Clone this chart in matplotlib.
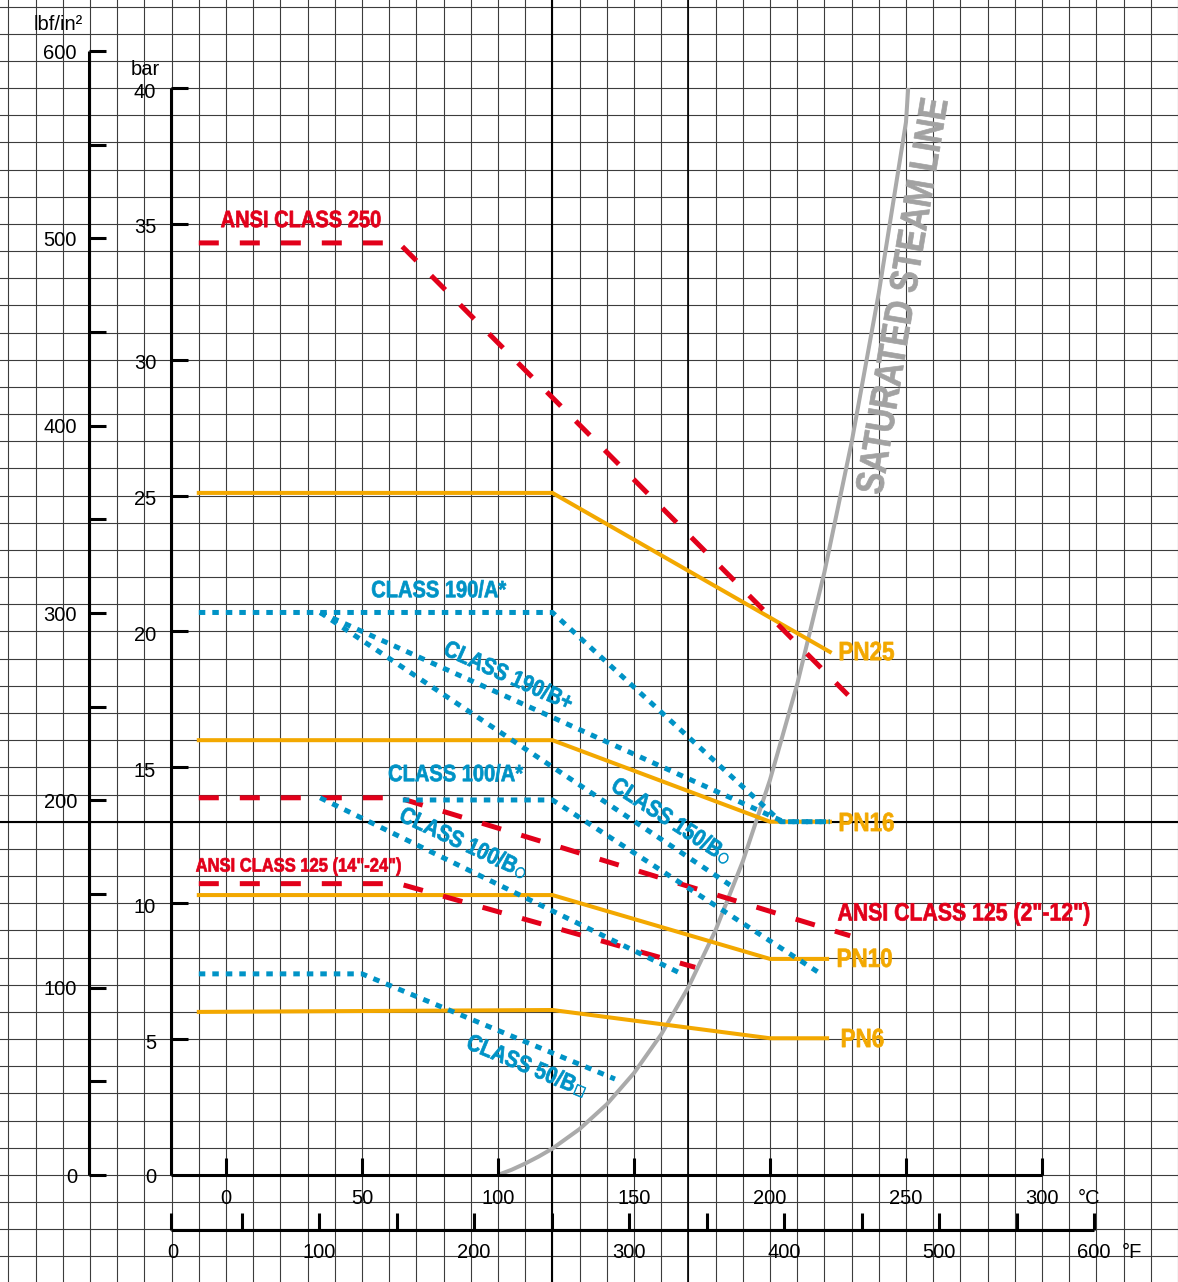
import matplotlib
matplotlib.use('Agg')
import numpy as np
from matplotlib.font_manager import FontProperties
from matplotlib.patches import PathPatch
from matplotlib.path import Path
from matplotlib.textpath import TextPath
from matplotlib.transforms import Affine2D
from matplotlib import pyplot as plt

plt.rcParams['font.family'] = ['Liberation Sans', 'DejaVu Sans']

RED = '#e2001a'
BLUE = '#0093c6'
ORANGE = '#f3a800'
GREY = '#aaaaaa'

# pressure ratings, temperature in degC, pressure in bar
pn25_t = [-10, 120, 222]
pn25_p = [25.1, 25.1, 19.25]
pn16_t = [-10, 120, 200, 222]
pn16_p = [16.0, 16.0, 13.0, 13.0]
pn10_t = [-10, 120, 200, 221]
pn10_p = [10.3, 10.3, 7.95, 7.95]
pn6_t = [-10, 120, 200, 221]
pn6_p = [6.0, 6.07, 5.03, 5.03]

ansi250_t = [-10, 63.5, 228.7]
ansi250_p = [34.3, 34.3, 17.66]
ansi125_large_t = [-10, 63.5, 172.5]
ansi125_large_p = [10.72, 10.72, 7.64]
ansi125_small_t = [-10, 63.5, 229.5]
ansi125_small_p = [13.88, 13.88, 8.8]

class190a_t = [-10, 120, 204, 222]
class190a_p = [20.7, 20.7, 13.0, 13.0]
class190b_t = [34.6, 205, 222]
class190b_p = [20.7, 13.0, 13.0]
class150b_t = [34.6, 185.3]
class150b_p = [20.7, 10.67]
class100a_t = [65, 120, 217.6]
class100a_p = [13.8, 13.8, 7.47]
class100b_t = [34.6, 166.9]
class100b_p = [13.88, 7.43]
class50b_t = [-10, 50, 143]
class50b_p = [7.4, 7.4, 3.53]

# saturated steam, gauge pressure
steam_t = [100, 105, 110, 115, 120, 130, 140, 150, 160, 170, 180, 190, 200, 210, 220, 230, 240, 250, 250.8]
steam_p = [0, 0.19, 0.42, 0.68, 0.97, 1.69, 2.60, 3.75, 5.17, 6.91, 9.01, 11.54, 14.54, 18.06, 22.18, 26.96, 32.46, 38.75, 40.0]

bar_ticks = [0, 5, 10, 15, 20, 25, 30, 35, 40]
psi_ticks = list(range(0, 601, 50))
psi_labels = [0, 100, 200, 300, 400, 500, 600]
degc_ticks = [0, 50, 100, 150, 200, 250, 300]
degf_ticks = list(range(0, 601, 50))
degf_labels = [0, 100, 200, 300, 400, 500, 600]


def f_pos(f):
	"""position of a degF tick on the chart's temperature axis (in degC units)"""
	return max((1.55 * f - 62) / 2.72, -20.2)


fig = plt.figure(figsize=(11.78, 12.82), dpi=100)
ax = fig.add_axes([0, 0, 1, 1])
ax.set_xlim(-83.09, 350.0)
ax.set_ylim(-3.94, 43.24)
ax.axis('off')

BOLD = FontProperties(family='Liberation Sans', weight='bold')
SYMBOL = FontProperties(family='DejaVu Sans')


def label(x, y, s, size, color, rotation=0, ha='left', squeeze=0.85, z=6, sym=None):
	"""bold condensed label, drawn as a squeezed text path, with an optional trailing symbol"""
	tp = TextPath((0, 0), s, size=size, prop=BOLD)
	ext = tp.get_extents()
	if sym is not None:
		sp = TextPath((ext.x1 + 0.08 * size, 0.02 * size), sym, size=0.6 * size, prop=SYMBOL)
		tp = Path.make_compound_path(tp, sp)
		ext = tp.get_extents()
	cap = TextPath((0, 0), 'H', size=size, prop=BOLD).get_extents().height
	x0 = ext.x0 if ha == 'left' else (ext.x0 + ext.x1) / 2
	px = fig.dpi / 72
	tr = (Affine2D().translate(-x0, -cap / 2).scale(squeeze * px, px)
		  .rotate_deg(rotation).translate(*ax.transData.transform((x, y))))
	ax.add_patch(PathPatch(tp, transform=tr, facecolor=color, edgecolor=color, lw=0.5, zorder=z))


# background grid
for x in np.arange(-80, 351, 10):
	ax.axvline(x, color='#3c3c3c', lw=0.8, zorder=0)
for y in np.arange(-3, 44, 1):
	ax.axhline(y, color='#3c3c3c', lw=0.8, zorder=0)
ax.axvline(120, color='black', lw=1.5, zorder=0)
ax.axvline(170, color='black', lw=1.2, zorder=0)
ax.axhline(13, color='black', lw=1.5, zorder=0)

# axes
ax_kw = dict(color='black', lw=2.2, solid_capstyle='butt', zorder=5)
bar_x = -20.2
psi_x = -50.4
psi_to_bar = 1 / 14.5038
ax.plot([bar_x, bar_x], [0, 40], **ax_kw)
for b in bar_ticks[1:]:
	ax.plot([bar_x, bar_x + 6.3], [b, b], **ax_kw)
	ax.text(bar_x - 5.5, b - 0.15, str(b), ha='right', va='center', fontsize=14.5)
ax.text(bar_x - 5.5, -0.1, '0', ha='right', va='center', fontsize=14.5)
ax.text(-29.8, 40.7, 'bar', ha='center', va='center', fontsize=14.5)

ax.plot([psi_x, psi_x], [0, 600 * psi_to_bar], **ax_kw)
for p in psi_ticks:
	ax.plot([psi_x, psi_x + 6.3], [p * psi_to_bar, p * psi_to_bar], **ax_kw)
for p in psi_labels:
	ax.text(-54.8, p * psi_to_bar - 0.08, str(p), ha='right', va='center', fontsize=14.5)
ax.text(-61.8, 42.32, 'lbf/in²', ha='center', va='center', fontsize=14.5)

ax.plot([bar_x, 300], [0, 0], **ax_kw)
for c in degc_ticks:
	ax.plot([c, c], [0, 0.63], **ax_kw)
	ax.text(c, -0.88, str(c), ha='center', va='center', fontsize=14.5)
ax.text(313.2, -0.88, '°C', ha='left', va='center', fontsize=14.5)

f_y = -2.02
ax.plot([bar_x, f_pos(600)], [f_y, f_y], **ax_kw)
for f in degf_ticks:
	ax.plot([f_pos(f), f_pos(f)], [f_y, f_y + 0.63], **ax_kw)
for f in degf_labels:
	ax.text(f_pos(f) + (0.7 if f == 0 else 0), -2.87, str(f), ha='center', va='center', fontsize=14.5)
ax.text(329.4, -2.87, '°F', ha='left', va='center', fontsize=14.5)

# saturated steam line
ax.plot(steam_t, steam_p, color=GREY, lw=2.9, solid_capstyle='butt', zorder=2)
label(248.3, 32.35, 'SATURATED STEAM LINE', 28.5, '#a2a2a2', rotation=80.5, ha='center', squeeze=0.82, z=3)

# ratings
solid = dict(color=ORANGE, lw=2.9, solid_joinstyle='miter', zorder=3)
for t, p in [(pn25_t, pn25_p), (pn16_t, pn16_p), (pn10_t, pn10_p), (pn6_t, pn6_p)]:
	ax.plot(t, p, **solid)

dashed = dict(color=RED, lw=3.6, linestyle=(0, (4.0, 4.2)), dash_capstyle='butt', zorder=4)
for t, p in [(ansi250_t, ansi250_p), (ansi125_large_t, ansi125_large_p), (ansi125_small_t, ansi125_small_p)]:
	ax.plot(t, p, **dashed)

dotted = dict(color=BLUE, lw=3.6, linestyle=(0, (1.3, 1.4)), dash_capstyle='butt', zorder=4.5)
for t, p in [(class190a_t, class190a_p), (class190b_t, class190b_p), (class150b_t, class150b_p),
			 (class100a_t, class100a_p), (class100b_t, class100b_p), (class50b_t, class50b_p)]:
	ax.plot(t, p, **dotted)

label(-1.8, 35.18, 'ANSI CLASS 250', 17, RED)
label(-11, 11.41, 'ANSI CLASS 125 (14"-24")', 14, RED)
label(225, 9.68, 'ANSI CLASS 125 (2"-12")', 18, RED)

label(53.7, 21.56, 'CLASS 190/A*', 17, BLUE)
label(59.9, 14.79, 'CLASS 100/A*', 17, BLUE)
label(104, 18.4, 'CLASS 190/B+', 17, BLUE, rotation=-24, ha='center')
label(87.5, 12.25, 'CLASS 100/B', 17, BLUE, rotation=-25, ha='center', sym='○')
label(164, 13.06, 'CLASS 150/B', 17, BLUE, rotation=-33, ha='center', sym='○')
label(110.7, 4.05, 'CLASS 50/B', 17, BLUE, rotation=-22.5, ha='center', sym='□')

for x, y, s in [(225.7, 19.28, 'PN25'), (225.7, 12.99, 'PN16'), (225, 7.99, 'PN10'), (226.5, 5.04, 'PN6')]:
	label(x, y, s, 19, ORANGE)

fig.savefig('out.png', dpi=100)
